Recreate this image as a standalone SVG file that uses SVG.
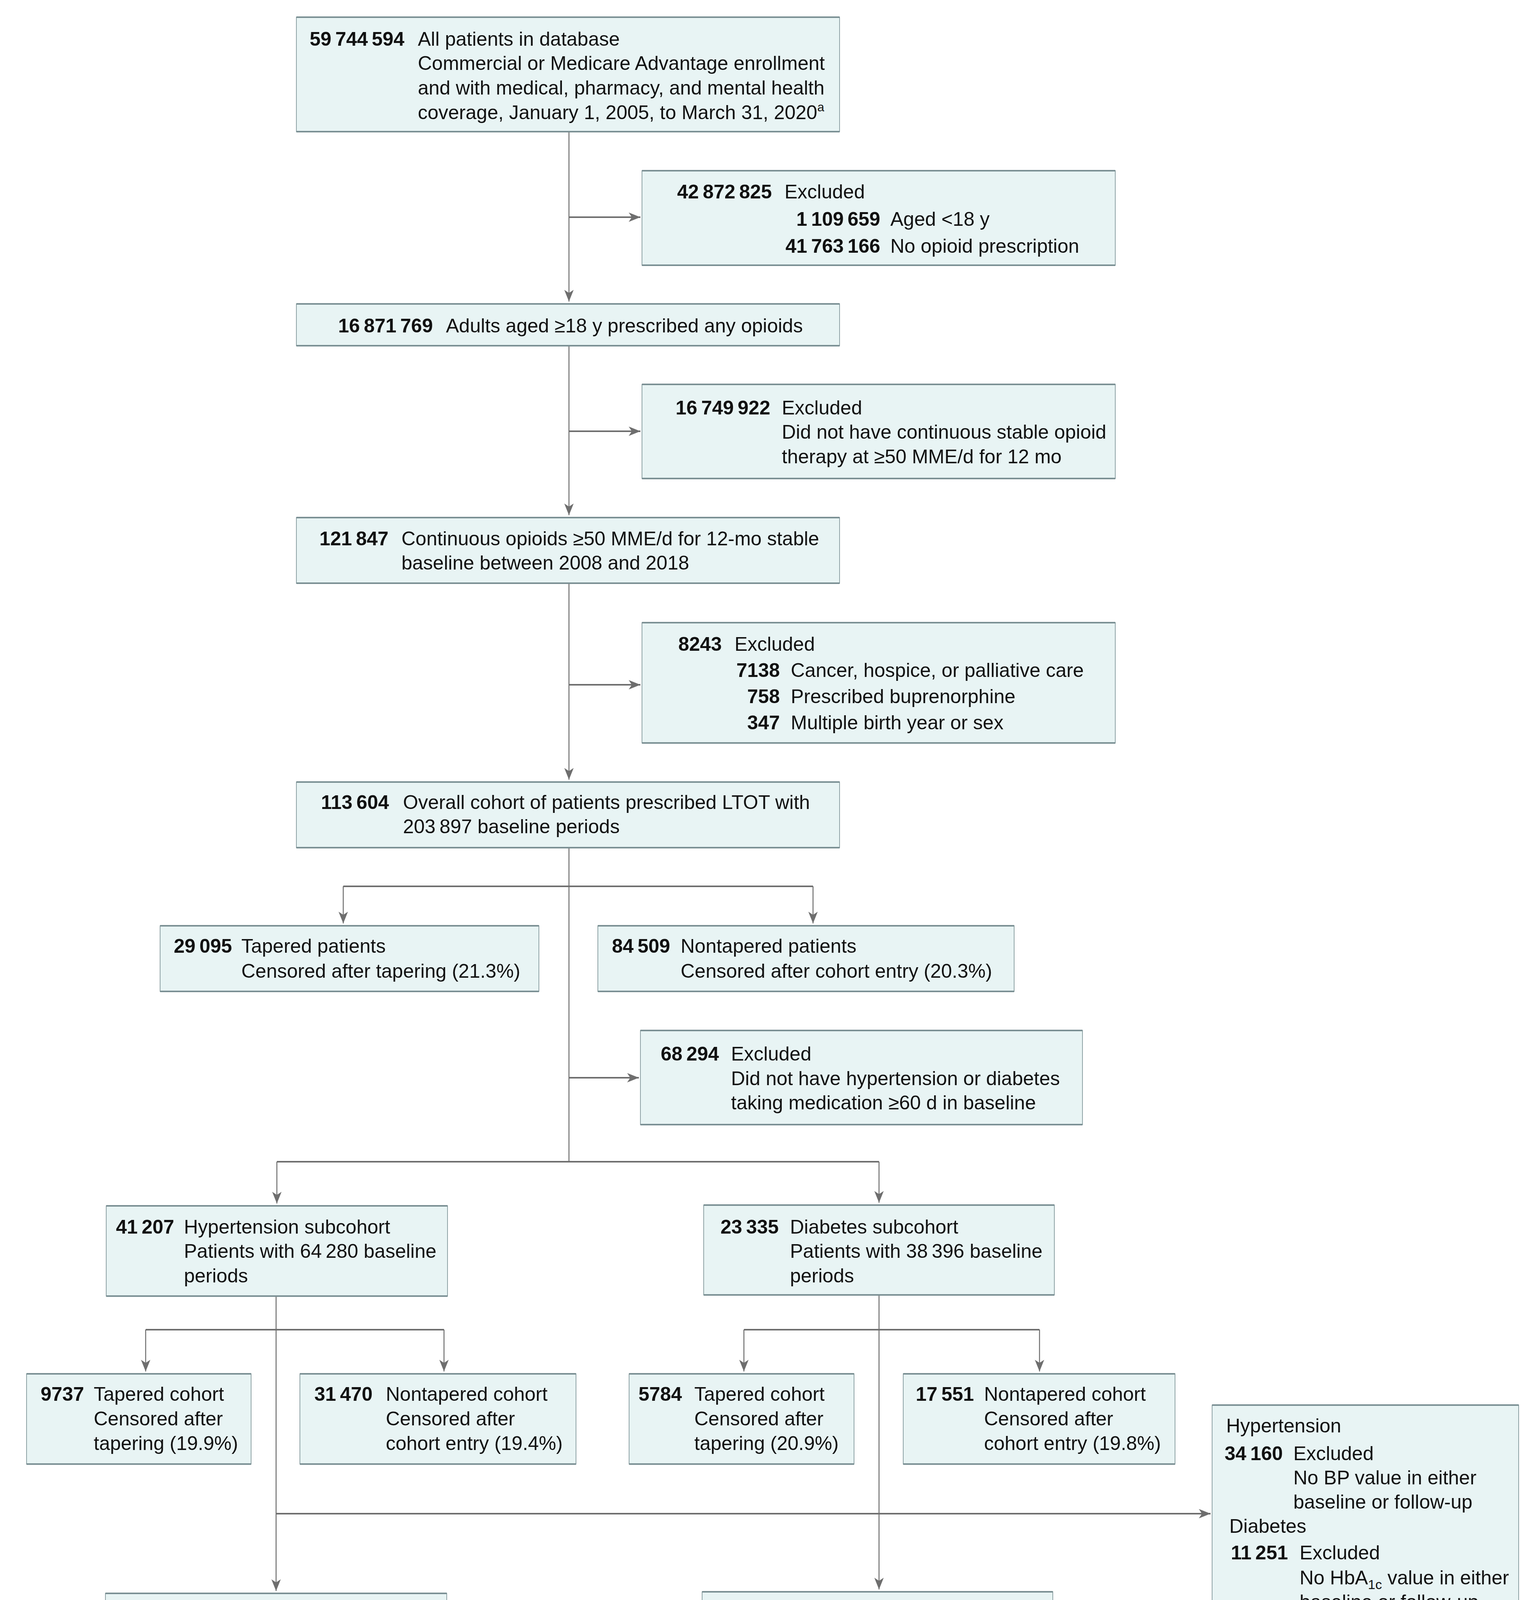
<svg xmlns="http://www.w3.org/2000/svg" width="3895" height="4850" viewBox="0 0 3895 4850">
<style>
.box{fill:#E8F4F4;stroke:#8FA3A6;stroke-width:2}
.tb{fill:none;stroke:#7B9094;stroke-width:4}
text{font-family:"Liberation Sans",Arial,sans-serif;font-size:50px;fill:#111}
.n{font-weight:bold}
.e{text-anchor:end}
.cv{fill:none;stroke:#6E6E6E;stroke-width:2.5}
.ch{fill:none;stroke:#6E6E6E;stroke-width:4}
.ar{marker-end:url(#ah)}
</style>
<defs>
<marker id="ah" markerUnits="userSpaceOnUse" markerWidth="32" markerHeight="26" refX="30" refY="12" orient="auto" overflow="visible">
<path d="M0,0 L30,12 L0,24 L8,12 Z" fill="#6E6E6E"/>
</marker>
</defs>
<rect width="3895" height="4850" fill="#fff"/>

<g id="connectors">
<line class="cv ar" x1="1457" y1="337" x2="1457" y2="772"/>
<line class="ch ar" x1="1457" y1="556" x2="1640" y2="556"/>
<line class="cv ar" x1="1457" y1="885" x2="1457" y2="1319"/>
<line class="ch ar" x1="1457" y1="1104" x2="1640" y2="1104"/>
<line class="cv ar" x1="1457" y1="1493" x2="1457" y2="1996"/>
<line class="ch ar" x1="1457" y1="1753" x2="1640" y2="1753"/>
<line class="cv" x1="1457" y1="2170" x2="1457" y2="2974"/>
<line class="ch" x1="879" y1="2269" x2="2082" y2="2269"/>
<line class="cv ar" x1="879" y1="2269" x2="879" y2="2364"/>
<line class="cv ar" x1="2082" y1="2269" x2="2082" y2="2364"/>
<line class="ch ar" x1="1457" y1="2759" x2="1636" y2="2759"/>
<line class="ch" x1="709" y1="2974" x2="2251" y2="2974"/>
<line class="cv ar" x1="709" y1="2974" x2="709" y2="3081"/>
<line class="cv ar" x1="2251" y1="2974" x2="2251" y2="3079"/>
<line class="cv ar" x1="707" y1="3318" x2="707" y2="4073"/>
<line class="ch" x1="373" y1="3404" x2="1137" y2="3404"/>
<line class="cv ar" x1="373" y1="3404" x2="373" y2="3511"/>
<line class="cv ar" x1="1137" y1="3404" x2="1137" y2="3511"/>
<line class="cv ar" x1="2251" y1="3315" x2="2251" y2="4069"/>
<line class="ch" x1="1905" y1="3404" x2="2662" y2="3404"/>
<line class="cv ar" x1="1905" y1="3404" x2="1905" y2="3511"/>
<line class="cv ar" x1="2662" y1="3404" x2="2662" y2="3511"/>
<line class="ch ar" x1="707" y1="3875" x2="3100" y2="3875"/>
<line class="cv" x1="707" y1="4309" x2="707" y2="4408"/>
<line class="ch" x1="362" y1="4408" x2="1133" y2="4408"/>
<line class="cv ar" x1="362" y1="4408" x2="362" y2="4502"/>
<line class="cv ar" x1="1133" y1="4408" x2="1133" y2="4502"/>
<line class="cv" x1="2251" y1="4306" x2="2251" y2="4408"/>
<line class="ch" x1="1902" y1="4408" x2="2666" y2="4408"/>
<line class="cv ar" x1="1902" y1="4408" x2="1902" y2="4502"/>
<line class="cv ar" x1="2666" y1="4408" x2="2666" y2="4502"/>
</g>

<g id="n-all">
<rect class="box" x="759" y="44" width="1391" height="293"/>
<path class="tb" d="M759,44h1391M759,337h1391"/>
<text class="n" x="793" y="117">59&#8201;744&#8201;594</text>
<text x="1070" y="117">All patients in database</text>
<text x="1070" y="179">Commercial or Medicare Advantage enrollment</text>
<text x="1070" y="242">and with medical, pharmacy, and mental health</text>
<text x="1070" y="305">coverage, January 1, 2005, to March 31, 2020<tspan dy="-20" font-size="32">a</tspan></text>
</g>

<g id="n-excl1">
<rect class="box" x="1644" y="437" width="1212" height="242"/>
<path class="tb" d="M1644,437h1212M1644,679h1212"/>
<text class="n" x="1734" y="508">42&#8201;872&#8201;825</text>
<text x="2009" y="508">Excluded</text>
<text class="n e" x="2254" y="578">1&#8201;109&#8201;659</text>
<text x="2280" y="578">Aged &lt;18 y</text>
<text class="n e" x="2254" y="647">41&#8201;763&#8201;166</text>
<text x="2280" y="647">No opioid prescription</text>
</g>

<g id="n-adults">
<rect class="box" x="759" y="778" width="1391" height="107"/>
<path class="tb" d="M759,778h1391M759,885h1391"/>
<text class="n" x="866" y="851">16&#8201;871&#8201;769</text>
<text x="1142" y="851">Adults aged ≥18 y prescribed any opioids</text>
</g>

<g id="n-excl2">
<rect class="box" x="1644" y="984" width="1212" height="241"/>
<path class="tb" d="M1644,984h1212M1644,1225h1212"/>
<text class="n" x="1730" y="1061">16&#8201;749&#8201;922</text>
<text x="2002" y="1061">Excluded</text>
<text x="2002" y="1123">Did not have continuous stable opioid</text>
<text x="2002" y="1186">therapy at ≥50 MME/d for 12 mo</text>
</g>

<g id="n-continuous">
<rect class="box" x="759" y="1325" width="1391" height="168"/>
<path class="tb" d="M759,1325h1391M759,1493h1391"/>
<text class="n" x="818" y="1396">121&#8201;847</text>
<text x="1028" y="1396">Continuous opioids ≥50 MME/d for 12-mo stable</text>
<text x="1028" y="1458">baseline between 2008 and 2018</text>
</g>

<g id="n-excl3">
<rect class="box" x="1644" y="1594" width="1212" height="308"/>
<path class="tb" d="M1644,1594h1212M1644,1902h1212"/>
<text class="n" x="1737" y="1666">8243</text>
<text x="1881" y="1666">Excluded</text>
<text class="n e" x="1997" y="1733">7138</text>
<text x="2025" y="1733">Cancer, hospice, or palliative care</text>
<text class="n e" x="1997" y="1800">758</text>
<text x="2025" y="1800">Prescribed buprenorphine</text>
<text class="n e" x="1997" y="1867">347</text>
<text x="2025" y="1867">Multiple birth year or sex</text>
</g>

<g id="n-overall">
<rect class="box" x="759" y="2002" width="1391" height="168"/>
<path class="tb" d="M759,2002h1391M759,2170h1391"/>
<text class="n" x="822" y="2071">113&#8201;604</text>
<text x="1032" y="2071">Overall cohort of patients prescribed LTOT with</text>
<text x="1032" y="2133">203&#8201;897 baseline periods</text>
</g>

<g id="n-tapered">
<rect class="box" x="410" y="2370" width="970" height="168"/>
<path class="tb" d="M410,2370h970M410,2538h970"/>
<text class="n" x="445" y="2439">29&#8201;095</text>
<text x="618" y="2439">Tapered patients</text>
<text x="618" y="2503">Censored after tapering (21.3%)</text>
</g>

<g id="n-nontapered">
<rect class="box" x="1531" y="2370" width="1066" height="168"/>
<path class="tb" d="M1531,2370h1066M1531,2538h1066"/>
<text class="n" x="1567" y="2439">84&#8201;509</text>
<text x="1743" y="2439">Nontapered patients</text>
<text x="1743" y="2503">Censored after cohort entry (20.3%)</text>
</g>

<g id="n-excl4">
<rect class="box" x="1640" y="2638" width="1132" height="241"/>
<path class="tb" d="M1640,2638h1132M1640,2879h1132"/>
<text class="n" x="1692" y="2715">68&#8201;294</text>
<text x="1872" y="2715">Excluded</text>
<text x="1872" y="2778">Did not have hypertension or diabetes</text>
<text x="1872" y="2840">taking medication ≥60 d in baseline</text>
</g>

<g id="n-htn">
<rect class="box" x="272" y="3087" width="874" height="231"/>
<path class="tb" d="M272,3087h874M272,3318h874"/>
<text class="n" x="297" y="3158">41&#8201;207</text>
<text x="471" y="3158">Hypertension subcohort</text>
<text x="471" y="3220">Patients with 64&#8201;280 baseline</text>
<text x="471" y="3283">periods</text>
</g>

<g id="n-dm">
<rect class="box" x="1802" y="3085" width="898" height="230"/>
<path class="tb" d="M1802,3085h898M1802,3315h898"/>
<text class="n" x="1845" y="3158">23&#8201;335</text>
<text x="2023" y="3158">Diabetes subcohort</text>
<text x="2023" y="3220">Patients with 38&#8201;396 baseline</text>
<text x="2023" y="3283">periods</text>
</g>

<g id="n-htn-tapered">
<rect class="box" x="68" y="3517" width="575" height="231"/>
<path class="tb" d="M68,3517h575M68,3748h575"/>
<text class="n" x="104" y="3586">9737</text>
<text x="240" y="3586">Tapered cohort</text>
<text x="240" y="3649">Censored after</text>
<text x="240" y="3712">tapering (19.9%)</text>
</g>

<g id="n-htn-nontapered">
<rect class="box" x="768" y="3517" width="707" height="231"/>
<path class="tb" d="M768,3517h707M768,3748h707"/>
<text class="n" x="805" y="3586">31&#8201;470</text>
<text x="988" y="3586">Nontapered cohort</text>
<text x="988" y="3649">Censored after</text>
<text x="988" y="3712">cohort entry (19.4%)</text>
</g>

<g id="n-dm-tapered">
<rect class="box" x="1611" y="3517" width="576" height="231"/>
<path class="tb" d="M1611,3517h576M1611,3748h576"/>
<text class="n" x="1635" y="3586">5784</text>
<text x="1778" y="3586">Tapered cohort</text>
<text x="1778" y="3649">Censored after</text>
<text x="1778" y="3712">tapering (20.9%)</text>
</g>

<g id="n-dm-nontapered">
<rect class="box" x="2313" y="3517" width="696" height="231"/>
<path class="tb" d="M2313,3517h696M2313,3748h696"/>
<text class="n" x="2345" y="3586">17&#8201;551</text>
<text x="2520" y="3586">Nontapered cohort</text>
<text x="2520" y="3649">Censored after</text>
<text x="2520" y="3712">cohort entry (19.8%)</text>
</g>

<g id="n-excl5">
<rect class="box" x="3104" y="3597" width="785" height="557"/>
<path class="tb" d="M3104,3597h785M3104,4154h785"/>
<text x="3140" y="3667">Hypertension</text>
<text class="n" x="3136" y="3738">34&#8201;160</text>
<text x="3312" y="3738">Excluded</text>
<text x="3312" y="3800">No BP value in either</text>
<text x="3312" y="3862">baseline or follow-up</text>
<text x="3148" y="3924">Diabetes</text>
<text class="n" x="3152" y="3992">11&#8201;251</text>
<text x="3328" y="3992">Excluded</text>
<text x="3328" y="4056">No HbA<tspan dy="12" font-size="34">1c</tspan><tspan dy="-12"> value in either</tspan></text>
<text x="3328" y="4118">baseline or follow-up</text>
</g>

<g id="n-htn-bp">
<rect class="box" x="270" y="4079" width="874" height="230"/>
<path class="tb" d="M270,4079h874M270,4309h874"/>
<text class="n" x="319" y="4148">7047</text>
<text x="460" y="4148">Hypertension-BP subgroup</text>
<text x="460" y="4210">Patients with 9959 baseline</text>
<text x="460" y="4272">periods</text>
</g>

<g id="n-dm-hba1c">
<rect class="box" x="1798" y="4075" width="898" height="231"/>
<path class="tb" d="M1798,4075h898M1798,4306h898"/>
<text class="n" x="1840" y="4148">12&#8201;084</text>
<text x="2018" y="4148">Diabetes-HbA<tspan dy="12" font-size="34">1c</tspan><tspan dy="-12"> subgroup</tspan></text>
<text x="2018" y="4210">Patients with 18&#8201;965 baseline</text>
<text x="2018" y="4272">periods</text>
</g>

<g id="n-bp-tapered">
<rect class="box" x="68" y="4508" width="575" height="286"/>
<path class="tb" d="M68,4508h575M68,4794h575"/>
<text class="n" x="103" y="4580">1980</text>
<text x="248" y="4580">Tapered</text>
<text x="248" y="4642">person-periods</text>
<text x="248" y="4704">Censored after</text>
<text x="248" y="4766">tapering (20.1%)</text>
</g>

<g id="n-bp-nontapered">
<rect class="box" x="770" y="4508" width="703" height="286"/>
<path class="tb" d="M770,4508h703M770,4794h703"/>
<text class="n" x="807" y="4580">7979</text>
<text x="953" y="4580">Nontapered</text>
<text x="953" y="4642">person-periods</text>
<text x="953" y="4704">Censored after</text>
<text x="953" y="4766">cohort entry (18.8%)</text>
</g>

<g id="n-hba1c-tapered">
<rect class="box" x="1612" y="4508" width="573" height="286"/>
<path class="tb" d="M1612,4508h573M1612,4794h573"/>
<text class="n" x="1634" y="4580">3595</text>
<text x="1780" y="4580">Tapered</text>
<text x="1780" y="4642">person-periods</text>
<text x="1780" y="4704">Censored after</text>
<text x="1780" y="4766">tapering (20.7%)</text>
</g>

<g id="n-hba1c-nontapered">
<rect class="box" x="2310" y="4508" width="696" height="286"/>
<path class="tb" d="M2310,4508h696M2310,4794h696"/>
<text class="n" x="2333" y="4580">15&#8201;370</text>
<text x="2515" y="4580">Nontapered</text>
<text x="2515" y="4642">person-periods</text>
<text x="2515" y="4704">Censored after</text>
<text x="2515" y="4766">cohort entry (19.1%)</text>
</g>
</svg>
